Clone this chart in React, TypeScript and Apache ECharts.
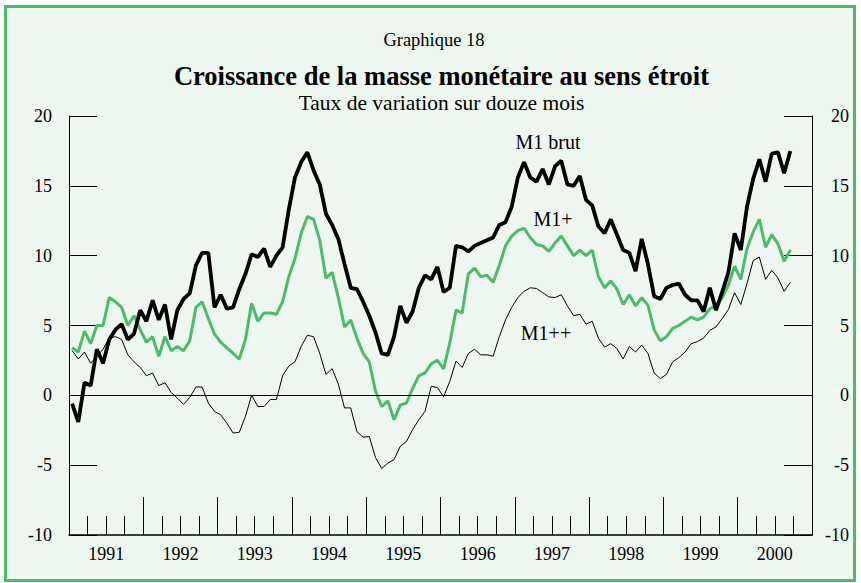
import React, { useEffect, useRef } from "react";
import * as echarts from "echarts";

const years = ["1991", "1992", "1993", "1994", "1995", "1996", "1997", "1998", "1999", "2000"];
const quarters = years.flatMap((y) => ["T1", "T2", "T3", "T4"].map((q) => `${y} ${q}`));
const months = years.flatMap((y) => Array.from({ length: 12 }, (_, m) => `${y}-${String(m + 1).padStart(2, "0")}`));

const m1Brut = [
  -0.6, -1.9, 0.9, 0.7, 3.3, 2.3, 4.0, 4.7, 5.1, 4.0, 4.4, 6.1,
  5.3, 6.8, 5.4, 6.5, 4.0, 6.1, 6.9, 7.3, 9.3, 10.2, 10.2, 6.3,
  7.2, 6.2, 6.3, 7.6, 8.7, 10.1, 9.9, 10.5, 9.2, 10.0, 10.6, 13.3,
  15.6, 16.7, 17.4, 16.1, 15.1, 13.0, 12.2, 11.2, 9.4, 7.7, 7.6, 6.7,
  5.7, 4.5, 3.0, 2.9, 4.2, 6.4, 5.2, 6.0, 7.7, 8.6, 8.3, 9.2,
  7.4, 7.7, 10.7, 10.6, 10.3, 10.7, 10.9, 11.1, 11.3, 12.2, 12.4, 13.5,
  15.6, 16.7, 15.6, 15.3, 16.2, 15.1, 16.4, 16.8, 15.1, 15.0, 15.7, 14.0,
  13.6, 12.1, 11.6, 12.6, 11.5, 10.4, 10.2, 8.9, 11.2, 9.4, 7.1, 6.9,
  7.7, 7.9, 8.0, 7.2, 6.8, 6.8, 6.0, 7.7, 6.1, 7.4, 8.8, 11.6,
  10.4, 13.5, 15.5, 16.9, 15.3, 17.3, 17.4, 15.9, 17.5,
];

const m1Plus = [
  3.4, 3.1, 4.6, 3.7, 5.0, 5.0, 7.0, 6.7, 6.3, 5.0, 5.7, 4.7,
  3.8, 4.2, 2.8, 4.2, 3.2, 3.5, 3.2, 3.9, 6.3, 6.7, 5.5, 4.4,
  3.8, 3.4, 3.0, 2.6, 4.0, 6.6, 5.3, 5.9, 5.9, 5.8, 6.7, 8.5,
  9.8, 11.6, 12.8, 12.6, 11.1, 8.4, 8.8, 7.0, 4.9, 5.4, 4.1, 3.0,
  2.4, 0.3, -0.8, -0.4, -1.75, -0.7, -0.55, 0.5, 1.4, 1.6, 2.25, 2.5,
  1.9, 3.75, 6.1, 5.9, 8.7, 9.1, 8.5, 8.6, 8.1, 9.3, 10.7, 11.4,
  11.8, 11.95, 11.3, 10.8, 10.7, 10.3, 10.9, 11.4, 10.7, 10.0, 10.4, 10.0,
  10.4, 8.5, 7.7, 8.2, 7.6, 6.5, 7.2, 6.4, 7.0, 6.45, 4.7, 3.9,
  4.2, 4.8, 5.0, 5.3, 5.6, 5.4, 5.6, 6.2, 6.4, 7.0, 7.9, 9.25,
  8.3, 10.5, 11.7, 12.6, 10.6, 11.5, 10.85, 9.6, 10.4,
];

const m1PlusPlus = [
  3.2, 2.6, 3.1, 2.3, 2.8, 3.3, 4.1, 4.2, 4.0, 2.9, 2.4, 2.0,
  1.4, 1.6, 0.7, 0.9, 0.2, -0.2, -0.65, -0.15, 0.6, 0.6, -0.55, -1.15,
  -1.4, -2.0, -2.7, -2.65, -1.5, 0.0, -0.8, -0.8, -0.3, -0.3, 1.4, 2.1,
  2.4, 3.5, 4.3, 4.2, 3.0, 1.5, 1.9, 0.8, -0.9, -0.9, -2.6, -3.0,
  -2.95, -4.45, -5.25, -4.85, -4.6, -3.65, -3.3, -2.45, -1.75, -1.15, 0.65, 0.55,
  -0.1, 1.0, 2.45, 2.0, 3.0, 3.3, 2.9, 2.9, 2.8, 4.2, 5.4, 6.3,
  7.0, 7.45, 7.7, 7.65, 7.35, 7.05, 7.0, 7.2, 6.4, 5.7, 5.8, 5.1,
  5.3, 4.1, 3.45, 3.7, 3.35, 2.6, 3.5, 3.1, 3.6, 3.0, 1.6, 1.2,
  1.5, 2.4, 2.7, 3.1, 3.7, 3.85, 4.1, 4.65, 4.9, 5.5, 6.15, 7.35,
  6.5, 8.0, 9.65, 9.9, 8.3, 8.95, 8.4, 7.45, 8.1,
];

const seriesNames = ["M1 brut", "M1+", "M1++"];
const yTicks = { min: -10, max: 20, interval: 5 };

const FONT = "Liberation Serif";
const GREEN = "#4fb96c";

export default function App() {
  const ref = useRef<HTMLDivElement>(null);
  useEffect(() => {
    document.body.style.margin = "0";
    const chart = echarts.init(ref.current!, null, { renderer: "svg" });
    const yAxisBase = {
      type: "value",
      min: yTicks.min,
      max: yTicks.max,
      interval: yTicks.interval,
      splitLine: { show: false },
      axisLine: { show: true, lineStyle: { color: "#000", width: 1 } },
      axisTick: { show: true, inside: true, length: 28, lineStyle: { color: "#000", width: 1 } },
    };
    const option: any = {
      animation: false,
      backgroundColor: "#ffffff",
      graphic: [
        {
          type: "rect",
          z: -10,
          silent: true,
          shape: { x: 5.5, y: 6.5, width: 849, height: 574 },
          style: { fill: "#edf7ef", stroke: GREEN, lineWidth: 3 },
        },
        {
          type: "text",
          x: 434,
          y: 40,
          style: { text: "Graphique 18", font: `18.5px "${FONT}"`, fill: "#000", textAlign: "center", textVerticalAlign: "middle" },
        },
        {
          type: "text",
          x: 441.5,
          y: 76,
          style: { text: "Croissance de la masse monétaire au sens étroit", font: `bold 26.5px "${FONT}"`, fill: "#000", textAlign: "center", textVerticalAlign: "middle" },
        },
        {
          type: "text",
          x: 441.5,
          y: 103,
          style: { text: "Taux de variation sur douze mois", font: `21.5px "${FONT}"`, fill: "#000", textAlign: "center", textVerticalAlign: "middle" },
        },
        {
          type: "text",
          x: 548,
          y: 142,
          style: { text: seriesNames[0], font: `20px "${FONT}"`, fill: "#000", textAlign: "center", textVerticalAlign: "middle" },
        },
        {
          type: "text",
          x: 553,
          y: 219,
          style: { text: seriesNames[1], font: `20px "${FONT}"`, fill: "#000", textAlign: "center", textVerticalAlign: "middle" },
        },
        {
          type: "text",
          x: 546,
          y: 333,
          style: { text: seriesNames[2], font: `20px "${FONT}"`, fill: "#000", textAlign: "center", textVerticalAlign: "middle" },
        },
      ],
      grid: { left: 69, right: 49, top: 116, bottom: 48, containLabel: false },
      xAxis: [
        {
          type: "category",
          data: months,
          boundaryGap: true,
          show: false,
        },
        {
          type: "category",
          data: quarters,
          boundaryGap: true,
          position: "bottom",
          axisLine: { show: false, onZero: false },
          axisTick: { show: true, inside: true, length: 19, interval: 0, lineStyle: { color: "#000", width: 1 } },
          axisLabel: { show: false, interval: 0 },
          splitLine: { show: false },
        },
        {
          type: "category",
          data: years,
          boundaryGap: true,
          position: "bottom",
          axisLine: { show: true, onZero: false, lineStyle: { color: "#000", width: 1.5 } },
          axisTick: { show: true, inside: true, length: 38, interval: 0, lineStyle: { color: "#000", width: 1 } },
          axisLabel: { show: true, interval: 0, margin: 10, fontFamily: FONT, fontSize: 18, color: "#000" },
          splitLine: { show: false },
        },
      ],
      yAxis: [
        {
          ...yAxisBase,
          position: "left",
          axisLabel: { margin: 17, fontFamily: FONT, fontSize: 18, color: "#000" },
        },
        {
          ...yAxisBase,
          position: "right",
          axisLabel: { margin: 37, align: "right", fontFamily: FONT, fontSize: 18, color: "#000" },
        },
      ],
      series: [
        {
          name: seriesNames[2],
          type: "line",
          data: m1PlusPlus,
          xAxisIndex: 0,
          yAxisIndex: 0,
          showSymbol: false,
          symbol: "none",
          lineStyle: { color: "#000", width: 1 },
          z: 3,
          markLine: {
            silent: true,
            symbol: "none",
            label: { show: false },
            lineStyle: { color: "#000", width: 1.2, type: "solid" },
            data: [{ yAxis: 0 }],
          },
        },
        {
          name: seriesNames[1],
          type: "line",
          data: m1Plus,
          xAxisIndex: 0,
          yAxisIndex: 0,
          showSymbol: false,
          symbol: "none",
          lineStyle: { color: GREEN, width: 3 },
          z: 4,
        },
        {
          name: seriesNames[0],
          type: "line",
          data: m1Brut,
          xAxisIndex: 0,
          yAxisIndex: 0,
          showSymbol: false,
          symbol: "none",
          lineStyle: { color: "#000", width: 3.8 },
          z: 5,
        },
      ],
    };
    chart.setOption(option);
    return () => chart.dispose();
  }, []);
  return <div ref={ref} style={{ position: "absolute", left: 0, top: 0, width: 861, height: 583 }} />;
}
